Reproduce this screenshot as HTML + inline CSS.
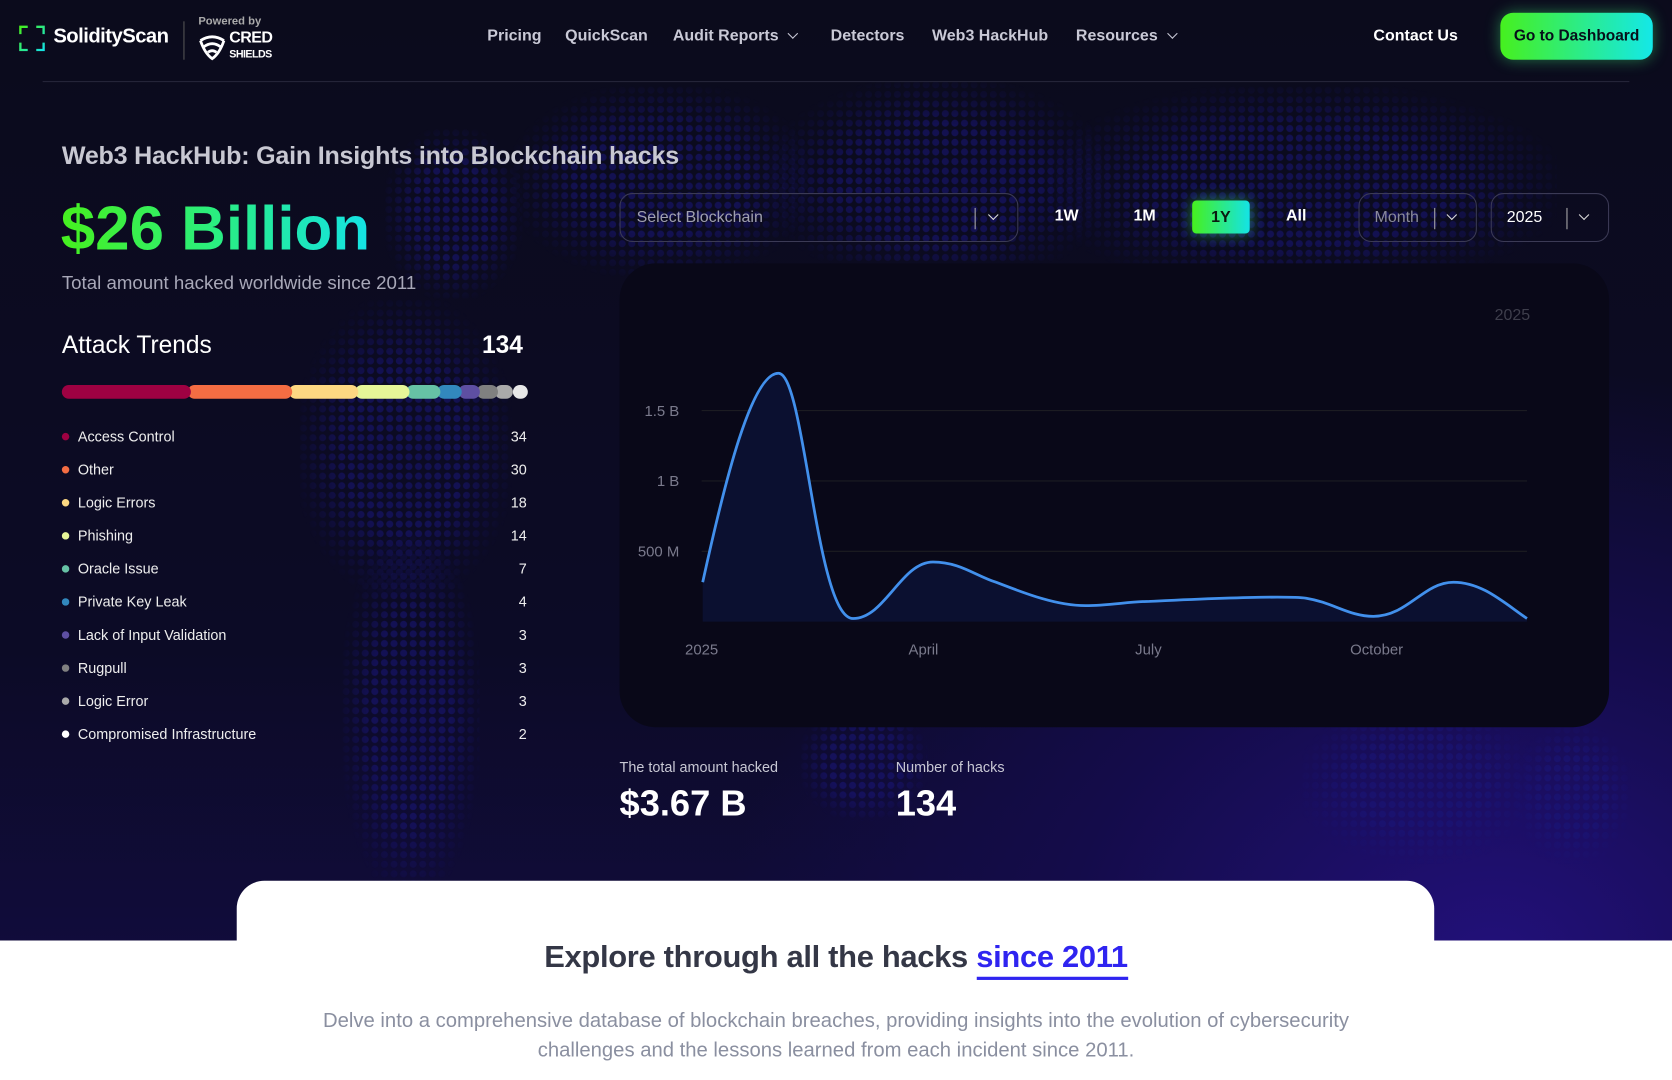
<!DOCTYPE html>
<html><head><meta charset="utf-8">
<style>
*{margin:0;padding:0;box-sizing:border-box}
html,body{width:1672px;height:1080px;overflow:hidden;background:#0b0b1e;font-family:"Liberation Sans",sans-serif}
#w{position:absolute;left:0;top:0;width:1568px;height:1013px;transform:scale(1.066327);transform-origin:0 0;overflow:hidden;
background:radial-gradient(ellipse 900px 700px at 1400px 900px,#22107a 0%,#140c4a 45%,rgba(12,11,35,0) 80%),linear-gradient(180deg,#0b0b1c 0%,#0c0b26 60%,#130c45 100%)}
.a{position:absolute}
.dots{position:absolute;background-image:radial-gradient(circle at 50% 50%,#1a167a 0 3px,transparent 3.6px);background-size:9px 9px;opacity:.55;-webkit-mask-image:radial-gradient(ellipse at center,#000 40%,transparent 75%);mask-image:radial-gradient(ellipse at center,#000 40%,transparent 75%)}
.nav{color:#c9c9d6;font-size:15px;font-weight:bold;top:25px}
.chev{display:inline-block;width:7px;height:7px;border-right:1.6px solid #c9c9d6;border-bottom:1.6px solid #c9c9d6;transform:rotate(45deg);margin-left:10px;position:relative;top:-3px}
.sel{position:absolute;border:1.5px solid #3b3a55;border-radius:12px;height:46px;top:181px}
.sel span{position:absolute;top:13px;font-size:15px}
.sel .bar{position:absolute;top:13px;width:1px;height:20px;background:#aaa}
.sel .chev{position:absolute;top:16px;margin:0;border-color:#ddd}
.tab{position:absolute;top:194px;color:#fff;font-weight:bold;font-size:15px}
.leg{position:absolute;left:58px;font-size:13.5px;color:#eee;width:436px}
.leg i{display:inline-block;width:7px;height:7px;border-radius:50%;margin-right:8px;position:relative;top:-1px}
.leg b{position:absolute;right:0;font-weight:normal}
.seg{position:absolute;top:361px;height:13px;border-radius:7px}
</style></head><body><div id="w">
<div class="dots" style="left:280px;top:280px;width:200px;height:280px"></div>
<div class="dots" style="left:320px;top:500px;width:130px;height:340px"></div>
<div class="dots" style="left:360px;top:120px;width:130px;height:160px"></div>
<div class="dots" style="left:480px;top:80px;width:280px;height:180px"></div>
<div class="dots" style="left:720px;top:75px;width:320px;height:190px"></div>
<div class="dots" style="left:980px;top:80px;width:480px;height:190px"></div>
<div class="dots" style="left:750px;top:660px;width:120px;height:110px"></div>
<div class="dots" style="left:1220px;top:660px;width:220px;height:150px"></div>
<div class="dots" style="left:1420px;top:680px;width:110px;height:130px"></div>

<svg class="a" style="left:18px;top:24px" width="24" height="24" viewBox="0 0 24 24"><defs><linearGradient id="lg" x1="0" y1="0" x2="1" y2="1"><stop offset="0" stop-color="#46f01e"/><stop offset="1" stop-color="#14e3e6"/></linearGradient></defs><g fill="none" stroke="url(#lg)" stroke-width="2.4"><path d="M1 8V1h7M16 1h7v7M23 16v7h-7M8 23H1v-7"/><path d="M1 12h22"/></g></svg>
<div class="a" style="left:50px;top:24px;color:#fff;font-size:19px;font-weight:bold;letter-spacing:-.5px">SolidityScan</div>
<div class="a" style="left:172px;top:20px;width:1px;height:36px;background:#555"></div>
<div class="a" style="left:186px;top:14px;color:#aaa;font-size:10.5px;font-weight:bold">Powered by</div>
<svg class="a" style="left:186px;top:32px" width="26" height="26" viewBox="0 0 26 26"><g fill="none" stroke="#fff" stroke-width="2.6"><path d="M2 6Q13 -1 24 6"/><path d="M5 12Q13 6 21 12"/><path d="M9 17Q13 14 17 17"/><path d="M2 6Q6 18 13 23Q20 18 24 6"/></g></svg>
<div class="a" style="left:215px;top:29px;color:#fff;font-size:15px;font-weight:bold;line-height:14px;letter-spacing:-.5px">CRED<br><span style="font-size:10px">SHIELDS</span></div>
<div class="a nav" style="left:457px">Pricing</div>
<div class="a nav" style="left:530px">QuickScan</div>
<div class="a nav" style="left:631px">Audit Reports<span class="chev"></span></div>
<div class="a nav" style="left:779px">Detectors</div>
<div class="a nav" style="left:874px">Web3 HackHub</div>
<div class="a nav" style="left:1009px">Resources<span class="chev"></span></div>
<div class="a nav" style="left:1288px;color:#fff">Contact Us</div>
<div class="a" style="left:1407px;top:12px;width:143px;height:44px;border-radius:12px;background:linear-gradient(90deg,#46f01e,#14e8e8);box-shadow:0 0 14px rgba(60,240,120,.45);color:#06101a;font-weight:bold;font-size:14.5px;text-align:center;line-height:44px">Go to Dashboard</div>
<div class="a" style="left:40px;top:76px;width:1488px;height:1px;background:#26253a"></div>

<div class="a" style="left:58px;top:133px;color:#c8c8d2;font-size:23.5px;font-weight:bold;letter-spacing:-.2px">Web3 HackHub: Gain Insights into Blockchain hacks</div>
<div class="a" style="left:57px;top:181px;font-size:58px;font-weight:bold;letter-spacing:0;background:linear-gradient(90deg,#46f01e 0%,#2aee80 50%,#14e3e6 100%);-webkit-background-clip:text;background-clip:text;color:transparent">$26 Billion</div>
<div class="a" style="left:58px;top:255px;color:#a8a8b8;font-size:17.5px">Total amount hacked worldwide since 2011</div>
<div class="a" style="left:58px;top:310px;color:#fff;font-size:23px">Attack Trends</div>
<div class="a" style="left:452px;top:310px;color:#fff;font-size:23px;font-weight:bold">134</div>
<div class="seg" style="left:481px;width:14px;background:#e8e8e8"></div>
<div class="seg" style="left:464px;width:17px;background:#aaaaaa"></div>
<div class="seg" style="left:447px;width:20px;background:#808080"></div>
<div class="seg" style="left:430px;width:20px;background:#5e4fa2"></div>
<div class="seg" style="left:410px;width:23px;background:#3288bd"></div>
<div class="seg" style="left:381px;width:32px;background:#66c2a5"></div>
<div class="seg" style="left:333px;width:51px;background:#e6f598"></div>
<div class="seg" style="left:271px;width:65px;background:#fdd882"></div>
<div class="seg" style="left:176px;width:98px;background:#f46d43"></div>
<div class="seg" style="left:58px;width:121px;background:#9e0142"></div>
<div class="leg" style="top:402px"><i style="background:#9e0142"></i>Access Control<b>34</b></div>
<div class="leg" style="top:433px"><i style="background:#f46d43"></i>Other<b>30</b></div>
<div class="leg" style="top:464px"><i style="background:#fdd882"></i>Logic Errors<b>18</b></div>
<div class="leg" style="top:495px"><i style="background:#e6f598"></i>Phishing<b>14</b></div>
<div class="leg" style="top:526px"><i style="background:#66c2a5"></i>Oracle Issue<b>7</b></div>
<div class="leg" style="top:557px"><i style="background:#3288bd"></i>Private Key Leak<b>4</b></div>
<div class="leg" style="top:588px"><i style="background:#5e4fa2"></i>Lack of Input Validation<b>3</b></div>
<div class="leg" style="top:619px"><i style="background:#808080"></i>Rugpull<b>3</b></div>
<div class="leg" style="top:650px"><i style="background:#aaaaaa"></i>Logic Error<b>3</b></div>
<div class="leg" style="top:681px"><i style="background:#fff"></i>Compromised Infrastructure<b>2</b></div>

<div class="sel" style="left:581px;width:374px"><span style="left:15px;color:#a0a0b0">Select Blockchain</span><div class="bar" style="left:332px"></div><span class="chev" style="left:346px"></span></div>
<div class="tab" style="left:989px">1W</div>
<div class="tab" style="left:1063px">1M</div>
<div class="a" style="left:1118px;top:188px;width:54px;height:31px;border-radius:4px;background:linear-gradient(90deg,#46f01e,#14e3e6);box-shadow:0 0 14px rgba(60,240,120,.5);color:#0a1a10;font-size:15px;font-weight:bold;text-align:center;line-height:31px">1Y</div>
<div class="tab" style="left:1206px">All</div>
<div class="sel" style="left:1274px;width:111px"><span style="left:14px;color:#8a8a9a">Month</span><div class="bar" style="left:70px"></div><span class="chev" style="left:83px"></span></div>
<div class="sel" style="left:1398px;width:111px"><span style="left:14px;color:#fff">2025</span><div class="bar" style="left:70px"></div><span class="chev" style="left:83px"></span></div>

<div class="a" style="left:581px;top:247px;width:928px;height:435px;border-radius:34px;background:#090818"></div>
<svg class="a" style="left:0;top:0" width="1568" height="1013">
<g stroke="#1c1c22" stroke-width="1"><line x1="658" y1="385" x2="1432" y2="385"/><line x1="658" y1="451" x2="1432" y2="451"/><line x1="658" y1="517" x2="1432" y2="517"/></g>
<g fill="#7a7a8c" font-family="Liberation Sans" font-size="14" text-anchor="end"><text x="637" y="390">1.5 B</text><text x="637" y="456">1 B</text><text x="637" y="522">500 M</text></g>
<text x="1435" y="300" fill="#3e3e4c" font-family="Liberation Sans" font-size="15" text-anchor="end">2025</text>
<g fill="#7a7a8c" font-family="Liberation Sans" font-size="14" text-anchor="middle"><text x="658" y="614">2025</text><text x="866" y="614">April</text><text x="1077" y="614">July</text><text x="1291" y="614">October</text></g>
<path d="M659 546 C680 450 705 350 730 350 C755 350 765 580 800 580 C830 580 845 527 875 527 C900 527 915 540 934 546 C960 556 990 568 1018 568 C1040 568 1060 564 1078 564 C1120 562 1160 560 1198 560 C1210 560 1218 560 1225 561 C1250 565 1265 578 1288 578 C1320 578 1335 546 1363 546 C1390 546 1410 565 1432 580 L1432 583 L659 583 Z" fill="#0b1030"/>
<path d="M659 546 C680 450 705 350 730 350 C755 350 765 580 800 580 C830 580 845 527 875 527 C900 527 915 540 934 546 C960 556 990 568 1018 568 C1040 568 1060 564 1078 564 C1120 562 1160 560 1198 560 C1210 560 1218 560 1225 561 C1250 565 1265 578 1288 578 C1320 578 1335 546 1363 546 C1390 546 1410 565 1432 580" fill="none" stroke="#4290ec" stroke-width="2.6"/>
</svg>

<div class="a" style="left:581px;top:712px;color:#c8c8d4;font-size:13.5px">The total amount hacked</div>
<div class="a" style="left:581px;top:735px;color:#fff;font-size:34px;font-weight:bold">$3.67 B</div>
<div class="a" style="left:840px;top:712px;color:#c8c8d4;font-size:13.5px">Number of hacks</div>
<div class="a" style="left:840px;top:735px;color:#fff;font-size:34px;font-weight:bold">134</div>

<div class="a" style="left:0;top:882px;width:1568px;height:140px;background:#fff"></div>
<div class="a" style="left:222px;top:826px;width:1123px;height:100px;background:#fff;border-radius:26px 26px 0 0"></div>
<div class="a" style="left:0;top:882px;width:1568px;text-align:center;font-size:29px;font-weight:bold;color:#343746;letter-spacing:-.3px">Explore through all the hacks <span style="color:#2f24f0;border-bottom:3px solid #2f24f0;padding-bottom:2px">since 2011</span></div>
<div class="a" style="left:214px;top:944px;width:1140px;text-align:center;font-size:19px;line-height:28px;color:#8a8fa0;letter-spacing:0">Delve into a comprehensive database of blockchain breaches, providing insights into the evolution of cybersecurity<br>challenges and the lessons learned from each incident since 2011.</div>
</div></body></html>
